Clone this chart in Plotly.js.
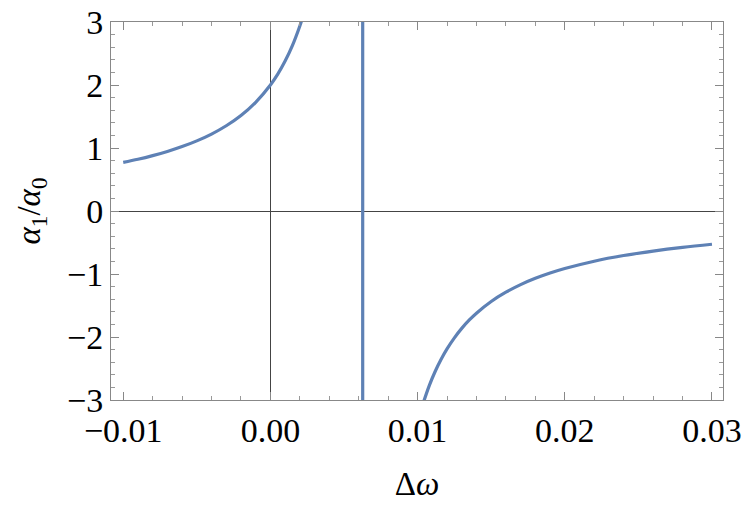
<!DOCTYPE html>
<html>
<head>
<meta charset="utf-8">
<script src="https://cdn.plot.ly/plotly-3.0.1.min.js"></script>
<style>
	html, body { margin: 0; padding: 0; background: #fff; }
	#root { width: 747px; height: 509px; }
</style>
</head>
<body>
<div id="root"></div>
<script>
// values
let leftX = [-0.010, -0.009, -0.008, -0.007, -0.006, -0.005, -0.004, -0.003, -0.002, -0.001, 0.000, 0.0005, 0.001, 0.0015, 0.002, 0.0022];
let leftY = [0.771, 0.821, 0.879, 0.945, 1.022, 1.113, 1.221, 1.353, 1.516, 1.725, 2.000, 2.173, 2.380, 2.629, 2.937, 3.081];

let jumpX = [0.00627, 0.00627];
let jumpY = [3.5, -3.5];

let rightX = [0.0104, 0.0108, 0.0112, 0.0116, 0.012, 0.0125, 0.013, 0.0135, 0.014, 0.015, 0.016, 0.017, 0.018, 0.019, 0.020, 0.022, 0.024, 0.026, 0.028, 0.030];
let rightY = [-3.036, -2.768, -2.544, -2.353, -2.188, -2.013, -1.863, -1.734, -1.622, -1.436, -1.289, -1.169, -1.069, -0.985, -0.913, -0.797, -0.707, -0.636, -0.577, -0.528];

let xTicks = [-0.01, 0.00, 0.01, 0.02, 0.03];
let xTickText = ['\u22120.01', '0.00', '0.01', '0.02', '0.03'];
let yTicks = [-3, -2, -1, 0, 1, 2, 3];
let yTickText = ['\u22123', '\u22122', '\u22121', '0', '1', '2', '3'];

function createGraph() {
	let curve = {
		x: leftX.concat([null], jumpX, [null], rightX),
		y: leftY.concat([null], jumpY, [null], rightY),
		mode: 'lines',
		type: 'scatter',
		line: { color: '#5e81b5', width: 3.2, shape: 'spline', smoothing: 1 },
		connectgaps: false,
		hoverinfo: 'skip'
	};

	let serif = '"Liberation Serif", "Times New Roman", serif';
	let tickFont = { family: serif, size: 34, color: '#000' };
	let titleFont = { family: serif, size: 33, color: '#000' };

	let layout = {
		width: 747,
		height: 509,
		margin: { l: 110.5, r: 24, t: 21.5, b: 109 },
		paper_bgcolor: '#fff',
		plot_bgcolor: '#fff',
		showlegend: false,
		xaxis: {
			range: [-0.01083, 0.03075],
			tickvals: xTicks,
			ticktext: xTickText,
			ticks: 'inside',
			ticklen: 8,
			tickwidth: 1,
			tickcolor: '#888',
			minor: { dtick: 0.002, tick0: 0, ticks: 'inside', ticklen: 4, tickcolor: '#999', tickwidth: 1 },
			mirror: 'ticks',
			showline: true,
			linecolor: '#888',
			linewidth: 1,
			showgrid: false,
			zeroline: true,
			zerolinecolor: '#444',
			zerolinewidth: 1,
			tickfont: tickFont,
			title: { text: '\u0394<i>\u03c9</i>', font: titleFont, standoff: 24 }
		},
		yaxis: {
			range: [-3, 3],
			tickvals: yTicks,
			ticktext: yTickText,
			ticks: 'inside',
			ticklen: 8,
			tickwidth: 1,
			tickcolor: '#888',
			minor: { dtick: 0.2, tick0: 0, ticks: 'inside', ticklen: 4, tickcolor: '#999', tickwidth: 1 },
			mirror: 'ticks',
			showline: true,
			linecolor: '#888',
			linewidth: 1,
			showgrid: false,
			zeroline: true,
			zerolinecolor: '#444',
			zerolinewidth: 1,
			tickfont: tickFont,
			title: { text: '<i>\u03b1</i><sub>1</sub>/<i>\u03b1</i><sub>0</sub>', font: titleFont, standoff: 16 }
		}
	};

	Plotly.newPlot('root', [curve], layout, { displayModeBar: false, staticPlot: true });
}

createGraph();
</script>
</body>
</html>
